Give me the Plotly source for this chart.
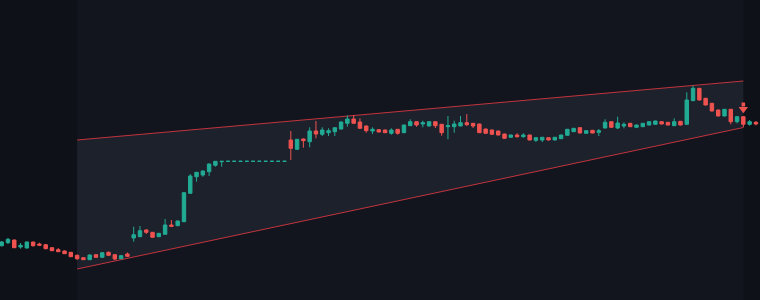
import plotly.graph_objects as go

# ---- data (price units) ----
open_ = [54.3, 57.3, 60.0, 53.0, 52.0, 58.0, 56.0, 55.3, 52.3, 50.3,
         49.0, 47.7, 44.7, 42.3, 40.3, 45.3, 42.7, 47.7, 45.3, 41.3,
         46.0, 62.0, 63.3, 70.0, 67.7, 63.3, 65.7, 75.0, 74.3, 78.3,
         106.7, 123.3, 125.0, 128.3, 134.7, 138.3, 138.7, 138.7, 138.7, 138.7,
         138.7, 138.7, 138.7, 138.7, 138.7, 138.7, 160.0, 150.7, 161.0, 158.3,
         169.0, 165.7, 167.3, 168.3, 171.0, 176.7, 181.0, 178.0, 174.0, 169.0,
         170.3, 170.0, 166.7, 170.7, 167.3, 174.3, 178.3, 176.0, 174.0, 178.3,
         175.7, 173.3, 173.3, 174.0, 177.3, 176.7, 176.0, 171.0, 170.0, 169.0,
         166.0, 162.7, 165.0, 163.3, 165.0, 159.7, 160.0, 162.3, 160.0, 161.3,
         164.7, 168.3, 172.3, 166.7, 169.7, 167.7, 172.0, 178.3, 172.0, 174.0,
         176.7, 172.7, 173.3, 175.0, 175.7, 178.3, 177.7, 174.3, 178.7, 175.7,
         199.3, 211.7, 201.7, 196.7, 190.0, 184.0, 190.7, 178.3, 183.3, 175.7,
         177.7]
high = [59.0, 62.0, 60.3, 57.0, 58.5, 58.2, 57.3, 56.0, 53.0, 52.0,
        49.5, 48.0, 45.5, 43.0, 45.5, 46.0, 48.0, 48.5, 46.0, 45.0,
        47.5, 73.3, 74.0, 70.7, 68.0, 67.0, 81.0, 80.0, 79.5, 108.0,
        126.0, 128.0, 129.5, 136.5, 139.0, 138.7, 138.7, 138.7, 138.7, 138.7,
        138.7, 138.7, 138.7, 138.7, 138.7, 138.7, 169.0, 161.0, 161.5, 172.7,
        179.0, 172.7, 171.7, 172.5, 178.5, 184.7, 184.7, 181.7, 174.5, 172.7,
        170.5, 170.3, 171.7, 171.0, 175.3, 180.7, 178.5, 179.3, 178.5, 178.5,
        176.0, 184.0, 179.3, 184.0, 186.0, 177.0, 176.3, 171.3, 170.3, 169.3,
        166.3, 165.3, 166.7, 166.7, 165.3, 162.7, 163.0, 162.7, 163.0, 165.3,
        171.0, 172.0, 172.7, 169.7, 170.0, 171.0, 180.7, 178.7, 183.3, 177.7,
        177.0, 175.3, 177.0, 178.7, 179.3, 178.7, 178.0, 181.7, 179.0, 207.7,
        214.3, 212.0, 202.0, 197.0, 190.3, 191.0, 191.0, 183.7, 183.7, 180.0,
        179.0]
low = [53.5, 56.0, 52.0, 51.3, 51.5, 53.3, 54.5, 50.8, 49.0, 48.0,
       46.0, 43.0, 40.0, 40.0, 40.0, 42.3, 42.3, 44.3, 40.0, 41.0,
       43.0, 58.3, 63.0, 66.0, 62.3, 63.0, 65.5, 73.0, 74.0, 78.0,
       106.5, 118.3, 123.3, 124.0, 133.3, 133.3, 138.7, 138.7, 138.7, 138.7,
       138.7, 138.7, 138.7, 138.7, 138.7, 138.7, 140.0, 150.5, 152.3, 152.7,
       161.7, 164.0, 164.0, 164.0, 170.5, 173.3, 176.5, 171.5, 167.3, 166.0,
       167.7, 167.0, 165.3, 165.3, 167.0, 174.0, 173.3, 172.7, 173.7, 172.0,
       164.3, 160.7, 167.3, 173.7, 174.0, 172.0, 167.0, 166.3, 165.3, 164.7,
       161.3, 162.3, 162.3, 162.3, 159.7, 158.0, 158.0, 159.7, 159.7, 161.0,
       164.3, 168.0, 166.7, 166.3, 166.7, 164.0, 171.7, 172.3, 171.0, 171.7,
       173.0, 172.3, 173.0, 174.7, 175.3, 175.7, 174.7, 174.0, 174.7, 175.3,
       199.0, 199.7, 194.7, 188.7, 183.7, 183.7, 175.7, 176.7, 172.7, 174.3,
       174.7]
close = [58.0, 60.7, 52.3, 54.7, 58.0, 54.3, 54.7, 51.3, 49.3, 48.3,
         46.3, 43.3, 41.3, 40.3, 45.0, 42.7, 47.3, 44.7, 41.0, 44.3,
         43.7, 65.3, 69.3, 67.7, 62.7, 66.7, 75.0, 73.7, 79.0, 107.3,
         124.0, 127.7, 129.0, 136.0, 138.7, 138.7, 138.7, 138.7, 138.7, 138.7,
         138.7, 138.7, 138.7, 138.7, 138.7, 138.7, 151.7, 160.7, 159.3, 169.0,
         166.0, 170.0, 169.3, 172.3, 178.0, 181.0, 176.7, 171.7, 169.3, 170.7,
         168.0, 167.3, 170.0, 166.7, 175.0, 178.3, 175.0, 177.3, 178.3, 174.3,
         167.3, 174.3, 176.0, 177.3, 175.3, 174.0, 167.3, 166.7, 165.7, 165.0,
         161.7, 165.0, 163.3, 165.0, 160.0, 162.3, 162.7, 160.0, 162.7, 165.0,
         170.7, 171.7, 167.0, 169.3, 167.0, 169.3, 177.7, 172.7, 177.0, 175.7,
         173.3, 175.0, 176.7, 178.3, 179.0, 176.0, 175.0, 178.3, 175.0, 200.0,
         211.7, 200.0, 195.0, 189.0, 184.0, 190.7, 178.3, 183.3, 175.7, 178.3,
         176.0]
bars = list(range(len(close)))

# wedge pattern (bar index, price)
wedge_start, wedge_end = 12, 118
upper_line = [160.0, 219.0]
lower_line = [31.0, 172.5]

# sell signal arrow: bar, tail price, head-base price, tip price
signal_bar = 118
signal_levels = [197.5, 193.0, 186.8]
HEAD_HALF = 0.75   # half width of arrow head, in bars (style)

BG = "#0e1118"
ZONE = "#12151d"
WEDGE = "#1d212c"
LINE = "#c3343e"
UP = "#22ab94"
DOWN = "#ef5350"

fig = go.Figure()
fig.add_trace(go.Candlestick(
    x=bars, open=open_, high=high, low=low, close=close,
    increasing=dict(line=dict(color=UP, width=1), fillcolor=UP),
    decreasing=dict(line=dict(color=DOWN, width=1), fillcolor=DOWN),
    whiskerwidth=0, hoverinfo="skip", showlegend=False,
))

tail, base, tip = signal_levels
shapes = [
    dict(type="rect", xref="x", yref="paper", x0=wedge_start, x1=wedge_end,
         y0=0, y1=1, fillcolor=ZONE, line=dict(width=0), layer="below"),
    dict(type="path", xref="x", yref="y",
         path=(f"M {wedge_start},{upper_line[0]} L {wedge_end},{upper_line[1]} "
               f"L {wedge_end},{lower_line[1]} L {wedge_start},{lower_line[0]} Z"),
         fillcolor=WEDGE, line=dict(width=0), layer="below"),
    dict(type="line", xref="x", yref="y", x0=wedge_start, y0=upper_line[0],
         x1=wedge_end, y1=upper_line[1], line=dict(color=LINE, width=1), layer="below"),
    dict(type="line", xref="x", yref="y", x0=wedge_start, y0=lower_line[0],
         x1=wedge_end, y1=lower_line[1], line=dict(color=LINE, width=1), layer="below"),
    # arrow shaft
    dict(type="line", xref="x", yref="y", x0=signal_bar, y0=tail,
         x1=signal_bar, y1=base + 0.5, line=dict(color=DOWN, width=3.5), layer="above"),
    # arrow head
    dict(type="path", xref="x", yref="y",
         path=(f"M {signal_bar - HEAD_HALF},{base} L {signal_bar + HEAD_HALF},{base} "
               f"L {signal_bar},{tip} Z"),
         fillcolor=DOWN, line=dict(width=0), layer="above"),
]

fig.update_layout(
    width=760, height=300,
    margin=dict(l=0, r=0, t=0, b=0),
    paper_bgcolor=BG, plot_bgcolor=BG,
    shapes=shapes, boxgap=0.22, showlegend=False,
    xaxis=dict(visible=False, range=[-0.27, 120.65], rangeslider=dict(visible=False)),
    yaxis=dict(visible=False, range=[0, 300]),
)

fig.write_html("out.html")
